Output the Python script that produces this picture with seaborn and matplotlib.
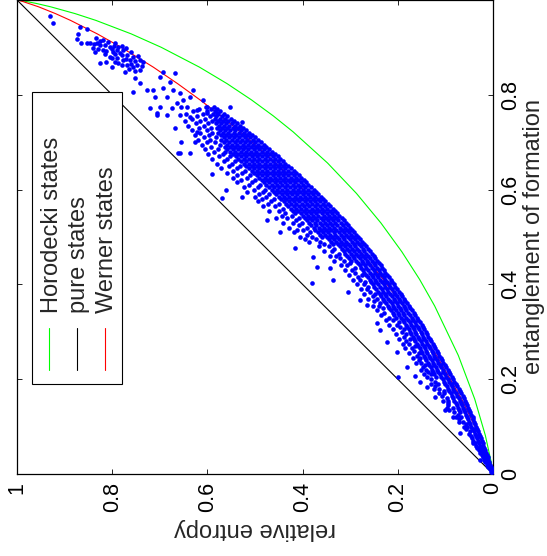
import numpy as np
import matplotlib
matplotlib.use("Agg")
import matplotlib.pyplot as plt
import seaborn as sns
from matplotlib.patches import Rectangle

# ---------------------------------------------------------------------------
# Data (entanglement of formation E_F, relative entropy E_R)
# ---------------------------------------------------------------------------
legend_labels = ["Horodecki states", "pure states", "Werner states"]
x_tick_values = [0, 0.2, 0.4, 0.6, 0.8, 1]
x_tick_labels = ["0", "0.2", "0.4", "0.6", "0.8", "1"]
y_tick_labels = ["0", "0.2", "0.4", "0.6", "0.8", ""]

horodecki_eof = [0, 0.0253, 0.0815, 0.1581, 0.2502, 0.3546, 0.4107, 0.4690, 0.5295,
                 0.5919, 0.6561, 0.7219, 0.7555, 0.7894, 0.8236, 0.8583, 0.9002,
                 0.9285, 0.9570, 0.9713, 0.9856, 0.9928, 0.9986, 1]
horodecki_re = [0, 0.0038, 0.0161, 0.0384, 0.0729, 0.1226, 0.1543, 0.1916, 0.2354,
                0.2868, 0.3476, 0.4200, 0.4616, 0.5076, 0.5588, 0.6166, 0.6970,
                0.7600, 0.8343, 0.8780, 0.9291, 0.9596, 0.9896, 1]

pure_eof = [0, 1]
pure_re = [0, 1]

werner_eof = [0, 0.0253, 0.0815, 0.1581, 0.2502, 0.3546, 0.4107, 0.4690, 0.5295,
              0.5919, 0.6561, 0.7219, 0.7555, 0.7894, 0.8236, 0.8583, 0.9002,
              0.9285, 0.9570, 0.9713, 0.9856, 0.9971, 1]
werner_re = [0, 0.0072, 0.0290, 0.0659, 0.1187, 0.1887, 0.2308, 0.2781, 0.3310,
             0.3902, 0.4564, 0.5310, 0.5719, 0.6157, 0.6627, 0.7136, 0.7811,
             0.8313, 0.8876, 0.9192, 0.9546, 0.9886, 1]

# sampled two-qubit states, in thousandths: one E_F value per row, E_R values of the row
band_eof = [5, 10, 15, 20, 25, 30, 35, 40, 45, 50, 55, 60, 65, 70, 75, 80, 85, 90, 95, 100,
            105, 110, 115, 120, 125, 130, 135, 140, 145, 150, 155, 160, 165, 170, 175, 180,
            185, 190, 195, 200, 205, 210, 215, 220, 225, 230, 235, 240, 245, 250, 255, 260,
            265, 270, 275, 280, 285, 290, 295, 300, 305, 310, 315, 320, 325, 330, 335, 340,
            345, 350, 355, 360, 365, 370, 375, 380, 385, 390, 395, 400, 405, 410, 415, 420,
            425, 430, 435, 440, 445, 450, 455, 460, 465, 470, 475, 480, 485, 490, 495, 500,
            505, 510, 515, 520, 525, 530, 535, 540, 545, 550, 555, 560, 565, 570, 575, 580,
            585, 590, 595, 600, 605, 610, 615, 620, 625, 630, 635, 640, 645, 650, 655, 660,
            665, 670, 675, 680, 685, 690, 695, 700, 705, 710, 715, 720, 725, 730, 735, 740,
            745, 750, 755, 760, 765, 770, 775]
band_re = [
    [2, 4], [3, 7], [4, 8, 11], [6, 10, 13], [8, 12, 16], [10, 15, 19], [11, 16, 21],
    [13, 18, 24], [15, 21, 27], [17, 23, 30], [19, 25, 33], [21, 28, 36], [22, 30, 38],
    [24, 32, 42], [25, 34, 44], [27, 36, 47], [29, 38, 51], [31, 40, 49], [33, 43, 57],
    [35, 46, 54, 61], [37, 48, 56], [39, 50, 64, 71], [41, 52, 71], [43, 54, 67, 77],
    [46, 57, 74], [48, 59, 70, 81], [50, 61, 72, 92], [52, 63, 74, 84], [54, 65, 76, 94],
    [56, 67, 78, 94], [59, 70, 81, 95, 105], [61, 72, 83, 96], [64, 75, 86, 107],
    [67, 78, 89, 102, 114], [70, 81, 92, 103], [72, 83, 94, 114, 125], [75, 86, 97, 122],
    [78, 89, 100, 115, 130], [81, 92, 103, 122], [84, 95, 106, 130],
    [87, 98, 109, 120, 139], [90, 101, 112, 123, 131, 145], [93, 104, 115, 126, 137],
    [95, 106, 117, 128, 141, 152], [98, 109, 120, 131, 147], [101, 112, 123, 134, 143],
    [104, 115, 126, 137, 151, 162], [107, 118, 129, 140, 156],
    [110, 121, 132, 143, 153, 169], [113, 124, 135, 146, 160],
    [116, 127, 138, 149, 155, 177], [118, 129, 140, 151, 165],
    [121, 132, 143, 154, 170, 184], [124, 135, 146, 157, 164],
    [127, 138, 149, 160, 176, 190], [130, 141, 152, 163, 182],
    [133, 144, 155, 166, 174, 198], [136, 147, 158, 169, 186],
    [139, 150, 161, 172, 183, 203], [141, 152, 163, 174, 191],
    [144, 155, 166, 177, 188, 210], [147, 158, 169, 180, 196],
    [150, 161, 172, 183, 201, 218], [153, 164, 175, 186, 197],
    [157, 168, 179, 190, 210, 224], [160, 171, 182, 193, 204, 219],
    [164, 175, 186, 197, 208, 236], [167, 178, 189, 200, 211, 228],
    [171, 182, 193, 204, 215, 243], [174, 185, 196, 207, 218, 232],
    [177, 188, 199, 210, 221, 240, 252], [180, 191, 202, 213, 224, 238],
    [184, 195, 206, 217, 228, 249], [187, 198, 209, 221, 232, 244, 263],
    [191, 202, 213, 224, 235, 253], [194, 205, 216, 227, 238, 247, 270],
    [198, 209, 220, 231, 242, 258], [201, 212, 223, 234, 245, 264, 278],
    [205, 216, 227, 238, 249, 262], [208, 219, 230, 241, 252, 271, 286],
    [212, 223, 234, 245, 256, 268], [215, 226, 237, 248, 259, 279, 294],
    [219, 230, 241, 252, 263, 283], [222, 233, 244, 255, 266, 276, 303],
    [226, 237, 248, 259, 270, 290], [229, 240, 251, 262, 273, 297, 311],
    [233, 244, 255, 266, 277, 289], [236, 247, 258, 269, 280, 306, 320],
    [240, 251, 262, 273, 284, 300], [243, 254, 265, 276, 287, 298, 314, 333],
    [247, 258, 269, 280, 291, 302, 321], [251, 262, 273, 284, 295, 306, 330, 343],
    [255, 266, 277, 288, 299, 310, 324], [259, 270, 281, 292, 303, 314, 339, 355],
    [263, 274, 285, 296, 307, 318, 333], [267, 278, 289, 300, 311, 322, 344, 365],
    [271, 282, 293, 304, 315, 326, 337, 356],
    [275, 286, 297, 308, 319, 330, 341, 363, 387],
    [279, 290, 301, 312, 323, 334, 345, 371, 394],
    [283, 294, 305, 316, 327, 338, 349, 360, 381, 405],
    [287, 298, 309, 320, 331, 342, 353, 364, 391],
    [291, 302, 313, 324, 335, 346, 357, 368, 385, 418],
    [296, 307, 318, 329, 340, 351, 362, 373, 399, 412],
    [300, 311, 322, 333, 344, 355, 366, 377, 391, 428],
    [305, 316, 327, 338, 349, 360, 371, 382, 407],
    [309, 320, 331, 342, 353, 364, 375, 386, 401, 420, 441],
    [314, 325, 336, 347, 358, 369, 380, 391, 413],
    [318, 329, 340, 351, 362, 373, 384, 395, 408, 432, 455],
    [323, 334, 345, 356, 367, 378, 389, 400, 422, 444],
    [327, 338, 349, 360, 371, 382, 393, 404, 415, 437],
    [332, 343, 354, 365, 376, 387, 398, 409, 420, 449, 470],
    [337, 348, 359, 370, 381, 392, 403, 414, 425, 441],
    [342, 353, 364, 375, 386, 397, 408, 419, 430, 457, 484],
    [347, 358, 369, 380, 391, 402, 413, 424, 435, 450, 472],
    [352, 363, 374, 385, 396, 407, 418, 429, 440, 466, 494],
    [357, 368, 379, 390, 401, 412, 423, 434, 445, 461, 485],
    [362, 373, 384, 395, 406, 417, 428, 439, 450, 477, 501],
    [367, 378, 389, 400, 411, 422, 433, 444, 455, 470, 492],
    [372, 383, 394, 405, 416, 427, 438, 449, 460, 484, 516],
    [377, 388, 399, 410, 421, 432, 443, 454, 465, 479, 503],
    [383, 394, 405, 416, 427, 438, 449, 460, 471, 494, 523],
    [388, 399, 410, 421, 432, 443, 454, 465, 476, 490, 512],
    [393, 404, 415, 426, 437, 448, 459, 470, 481, 506, 538],
    [398, 409, 420, 431, 442, 453, 464, 475, 486, 501, 529],
    [403, 414, 425, 436, 447, 458, 469, 480, 491, 517, 546],
    [408, 419, 430, 441, 452, 463, 474, 485, 496, 511, 537],
    [414, 425, 436, 447, 458, 469, 480, 491, 502, 528, 558],
    [419, 430, 441, 452, 463, 474, 485, 496, 507, 521, 547],
    [425, 436, 447, 458, 469, 480, 491, 502, 513, 537, 571],
    [430, 441, 452, 463, 474, 485, 496, 507, 518, 532, 555],
    [436, 447, 458, 469, 480, 491, 502, 513, 524, 549, 579],
    [441, 452, 463, 474, 485, 496, 507, 518, 529, 543, 566],
    [447, 458, 469, 480, 491, 502, 513, 524, 535, 558, 590],
    [452, 463, 474, 485, 496, 507, 518, 529, 540, 553, 575],
    [458, 469, 480, 491, 502, 513, 524, 535, 546, 568, 598],
    [464, 475, 486, 497, 508, 519, 530, 541, 552, 563, 586],
    [470, 481, 492, 503, 514, 525, 536, 547, 558, 577, 606],
    [476, 487, 498, 509, 520, 531, 542, 553, 564, 593],
    [482, 493, 504, 515, 526, 537, 548, 559, 573, 611],
    [488, 499, 510, 521, 532, 543, 554, 565, 584, 601],
    [494, 505, 516, 527, 538, 549, 560, 571, 594, 620],
    [500, 511, 522, 533, 544, 555, 566, 581, 607],
    [506, 517, 528, 539, 550, 561, 572, 597, 627],
    [512, 523, 534, 545, 556, 567, 578, 590, 615],
    [519, 530, 541, 552, 563, 574, 601, 633],
    [525, 536, 547, 558, 569, 580, 593, 618],
    [532, 543, 554, 565, 576, 607, 640],
    [538, 549, 560, 571, 582, 598, 625],
    [545, 556, 567, 578, 590, 615, 648],
    [551, 562, 573, 584, 606, 632],
    [559, 570, 581, 594, 622],
    [566, 577, 588, 610, 644],
    [573, 584, 601, 630],
    [580, 592, 618],
    [587, 603, 655],
]

# isolated states away from the main band, in thousandths
sparse_eof = [966, 951, 943, 939, 928, 918, 909, 909, 919, 916, 911, 909, 905, 901, 901,
              895, 895, 891, 891, 888, 884, 880, 873, 873, 869, 873, 869, 880, 863, 863,
              867, 909, 899, 852, 848, 859, 867, 909, 905, 897, 893, 886, 884, 878, 876,
              871, 866, 862, 858, 882, 890, 899, 903, 913, 907, 896, 887, 877, 870, 855,
              850, 860, 902, 894,
              848, 846, 835, 825, 838, 827, 810, 814, 810, 804, 810, 806, 810, 795, 795,
              789, 795, 783, 772, 774, 772, 774, 789, 768, 757, 757, 757, 753, 774, 762,
              762, 730, 722, 677, 700, 677, 774, 743,
              677, 582, 584, 633, 511, 536, 477, 403, 409, 384, 437, 367, 318, 278, 205,
              226, 207, 194, 162, 135, 86, 458, 435, 357, 304, 257, 184, 120, 139, 65, 30,
              762, 600, 700]
sparse_re = [931, 924, 868, 853, 872, 874, 866, 853, 833, 819, 809, 794, 826, 805, 788,
             777, 819, 836, 798, 784, 769, 756, 763, 742, 735, 777, 794, 805, 748, 769,
             788, 847, 840, 742, 773, 800, 826, 832, 815, 800, 812, 795, 780, 790, 771,
             752, 760, 780, 757, 745, 760, 771, 780, 826, 838, 830, 815, 800, 812, 765,
             752, 738, 797, 790,
             693, 668, 752, 742, 700, 679, 714, 693, 672, 658, 630, 756, 727, 710, 685,
             651, 637, 664, 721, 700, 674, 643, 609, 622, 685, 658, 706, 637, 601, 601,
             580, 668, 622, 637, 626, 658, 553, 527,
             662, 569, 527, 590, 447, 475, 416, 380, 336, 305, 370, 279, 244, 223, 200,
             181, 164, 153, 122, 101, 69, 378, 342, 265, 237, 202, 139, 84, 97, 42, 27,
             706, 560, 655]

# ---------------------------------------------------------------------------
# Styling
# ---------------------------------------------------------------------------
GREEN = (0.0, 1.0, 0.0)
BLACK = (0.0, 0.0, 0.0)
RED = (1.0, 0.0, 0.0)
BLUE = (0.0, 0.0, 1.0)

sns.set_style("white")
plt.rcParams["font.family"] = ["Liberation Sans", "DejaVu Sans"]

W, H = 547, 556
fig = plt.figure(figsize=(W / 100, H / 100), dpi=100)
# page is turned a quarter turn: E_R runs right-to-left along the bottom,
# E_F runs upward along the right-hand side
ax = fig.add_axes([17 / W, 1 - 474 / H, 476 / W, 474 / H])

curves = [
    (horodecki_re, horodecki_eof, GREEN),
    (pure_re, pure_eof, BLACK),
    (werner_re, werner_eof, RED),
]
for xs, ys, col in curves:
    sns.lineplot(x=np.array(xs), y=np.array(ys), sort=False, estimator=None,
                 color=col, linewidth=0.8, ax=ax, zorder=2)

cloud_eof = [e for e, row in zip(band_eof, band_re) for _ in row] + sparse_eof
cloud_re = [r for row in band_re for r in row] + sparse_re
sns.scatterplot(x=np.array(cloud_re) / 1000.0, y=np.array(cloud_eof) / 1000.0,
                color=BLUE, s=11, linewidth=0, legend=False, ax=ax, zorder=3)

ax.set_xlim(1, 0)
ax.set_ylim(0, 1)
ax.set_xticks(x_tick_values)
ax.set_xticklabels(x_tick_labels, rotation=90, fontsize=15.5)
ax.set_yticks(x_tick_values)
ax.set_yticklabels(y_tick_labels, rotation=90, fontsize=15.5, va="center")
ax.tick_params(axis="both", direction="in", length=3.6, width=0.6, colors="black",
               top=True, bottom=True, left=True, right=True,
               labelleft=False, labelright=True, labeltop=False, labelbottom=True)
ax.tick_params(axis="x", pad=6)
ax.tick_params(axis="y", pad=5)
for sp in ax.spines.values():
    sp.set_color("black")
    sp.set_linewidth(0.9)

ax.set_xlabel("relative entropy", rotation=180, fontsize=17)
ax.xaxis.set_label_coords(0.5, -0.092)
ax.yaxis.set_label_position("right")
ax.set_ylabel("entanglement of formation", rotation=90, fontsize=17)
ax.yaxis.set_label_coords(1.064, 0.5)

# legend box, drawn in the turned orientation
ax.add_patch(Rectangle((0.0315, 0.1899), 0.189, 0.616, transform=ax.transAxes,
                       facecolor="white", edgecolor="black", linewidth=0.8, zorder=5))
for i, (label, col) in enumerate(zip(legend_labels, [GREEN, BLACK, RED])):
    lx = 0.0672 + i * 0.0588
    ax.plot([lx, lx], [0.2194, 0.308], color=col, linewidth=0.8,
            transform=ax.transAxes, zorder=6)
    ax.text(0.0851 + i * 0.0588, 0.3397, label, rotation=90, rotation_mode="anchor",
            ha="left", va="baseline", fontsize=17, transform=ax.transAxes, zorder=6)

fig.savefig("out.png", dpi=100)
